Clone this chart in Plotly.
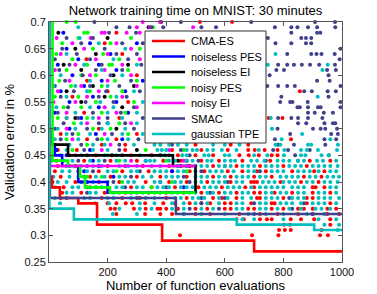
import plotly.graph_objects as go

# ---------------- data ----------------
series_names = ["CMA-ES", "noiseless PES", "noiseless EI", "noisy PES",
                "noisy EI", "SMAC", "gaussian TPE"]

# evaluated points, grouped by validation-error level: (level, [evaluation numbers])
cma_rows = [
    (0.70, [515, 625]), (0.68, [230]), (0.66, [190]), (0.64, [250]), (0.63, [128]),
    (0.60, [300]), (0.59, [130]), (0.57, [200, 856]), (0.56, [80]), (0.55, [270]),
    (0.53, [120]), (0.52, [60, 240, 750, 797]), (0.50, [170]), (0.49, [40, 300]),
    (0.48, [130, 230, 826]), (0.47, [20, 180, 260, 500, 620, 680]),
    (0.46, [30, 95, 260, 420, 520, 610, 680, 702, 736, 780]),
    (0.45, [15, 70, 160, 280, 350, 440, 500, 560, 650, 682, 716, 760, 780]),
    (0.44, [25, 120, 210, 300, 390, 450, 520, 580, 660, 755, 890, 960]),
    (0.43, [30, 90, 200, 320, 410, 480, 560, 640, 720, 800, 880]),
    (0.42, [20, 100, 170, 250, 340, 420, 480, 530, 610, 660, 710, 740, 830, 905, 940]),
    (0.41, [40, 140, 210, 300, 380, 470, 560, 620, 700, 760, 870, 930]),
    (0.40, [12, 90, 170, 240, 330, 410, 470, 540, 620, 690, 700, 710, 790, 860, 920]),
    (0.39, [50, 130, 200, 280, 350, 430, 510, 590, 670, 700, 900, 910, 940]),
    (0.38, [45, 110, 190, 260, 340, 400, 460, 520, 580, 640, 700, 720, 770, 830, 900, 960]),
    (0.37, [40, 180, 250, 310, 400, 470, 560, 590, 640, 710, 720, 800, 880, 900]),
    (0.36, [200, 230, 262, 284, 328, 390, 430, 480, 520, 550, 600, 620, 690, 760, 770, 880, 960]),
    (0.35, [210, 225, 290, 330, 370, 380, 400, 440, 500, 540, 600, 620, 680, 700, 760, 800,
            850, 870, 900, 950, 980]),
    (0.34, [230, 328, 380, 420, 500, 550, 650, 720, 780, 850, 900, 950, 990]),
    (0.33, [640, 665, 720, 744, 760, 825, 860, 905, 960]),
    (0.32, [802, 822, 960]),
    (0.31, [785, 805, 825, 930]),
    (0.30, [447, 693, 783, 925, 952]),
]

npes_rows = [
    (0.68, [49]), (0.66, [140, 300]), (0.65, [60]), (0.64, [210]), (0.63, [100]),
    (0.62, [30, 170]), (0.61, [230]), (0.60, [80]), (0.59, [180, 320]), (0.58, [120]),
    (0.57, [40, 260]), (0.56, [150]), (0.55, [70, 230]), (0.54, [170]), (0.53, [20, 270]),
    (0.52, [110]), (0.51, [200]), (0.50, [70]), (0.49, [160]), (0.48, [250]),
    (0.46, [25, 140]), (0.45, [60]), (0.44, [150, 330]), (0.43, [170]),
    (0.42, [120, 420]), (0.41, [220]), (0.40, [130, 380]), (0.39, [460]),
]

nei_rows = [
    (0.70, [382]), (0.69, [340]), (0.68, [32]), (0.67, [200]), (0.65, [90]), (0.64, [160]),
    (0.62, [50, 270]), (0.61, [110]), (0.60, [220]), (0.58, [150, 290]), (0.57, [60]),
    (0.56, [190]), (0.55, [110]), (0.54, [250]), (0.52, [90]), (0.50, [230]),
    (0.46, [300]), (0.45, [215, 380]), (0.44, [440, 470]),
]

ypes_rows = [
    (0.70, [60, 91]), (0.69, [355]), (0.68, [120, 132]), (0.67, [100, 280]),
    (0.66, [45, 210]), (0.65, [150, 310]), (0.64, [25, 185]), (0.63, [80, 240]),
    (0.62, [130, 205, 215]), (0.61, [60, 270]), (0.60, [110, 160]), (0.59, [35, 225, 300]),
    (0.58, [75, 180]), (0.57, [140, 250]), (0.56, [20, 100, 210]), (0.55, [160, 290]),
    (0.54, [50, 110]), (0.53, [180, 260]), (0.52, [30, 130]), (0.51, [85, 240]),
    (0.50, [150, 210]), (0.49, [100, 270]), (0.48, [60, 180]), (0.47, [130]),
    (0.46, [80, 330, 460]), (0.45, [200]), (0.44, [240, 400]), (0.43, [70]),
    (0.42, [230, 470]), (0.41, [130, 180]), (0.40, [250, 420]), (0.39, [160, 350]),
]

yei_rows = [
    (0.70, [320, 379]), (0.69, [300, 345, 492]), (0.68, [180, 190, 265, 310]),
    (0.67, [26, 142]), (0.66, [80, 230]), (0.65, [120, 280]), (0.64, [40, 200]),
    (0.63, [160, 310]), (0.62, [90, 250]), (0.61, [20, 190]), (0.60, [140, 280]),
    (0.59, [70, 200]), (0.58, [110, 300]), (0.57, [30, 170]), (0.56, [130, 250]),
    (0.55, [15, 90]), (0.54, [190, 300]), (0.53, [60, 230]), (0.52, [170]),
    (0.51, [130, 280]), (0.50, [60]), (0.49, [190]), (0.48, [80]), (0.47, [210]),
    (0.46, [180, 410]), (0.45, [90, 350]), (0.44, [280, 460]),
]

smac_rows = [
    (0.70, [155, 450, 690, 908, 976]),
    (0.69, [230, 275, 350, 390, 520, 570, 771, 827, 848, 884, 915, 977]),
    (0.68, [205, 297, 827, 915, 926]),
    (0.67, [60, 150, 747, 861, 877, 895]),
    (0.66, [110, 250, 320, 773, 827, 877, 895]),
    (0.65, [45, 190, 995]),
    (0.64, [95, 230, 300, 813, 895, 913, 930, 975]),
    (0.63, [20, 140, 270, 992]),
    (0.62, [70, 180, 315, 782, 813, 836, 863, 891, 922, 976]),
    (0.61, [35, 160, 250, 776, 802, 949, 979]),
    (0.60, [115, 210, 753, 954]),
    (0.59, [55, 280, 915, 958]),
    (0.58, [20, 140, 240, 745, 782, 813, 839, 995]),
    (0.57, [85, 195, 310, 871, 897, 951, 979]),
    (0.56, [40, 170, 265, 793, 954]),
    (0.55, [125, 220, 789, 823, 831, 883, 995]),
    (0.54, [65, 290, 848, 856, 884, 918, 927, 995]),
    (0.53, [30, 150, 245, 884, 907, 938, 969]),
    (0.52, [100, 200, 320, 782, 827, 850, 884, 933]),
    (0.51, [50, 170, 260, 850, 878, 940, 969, 977]),
    (0.50, [20, 130, 290, 780, 901, 927, 943, 983]),
    (0.49, [80, 215, 823, 963, 986]),
    (0.48, [40, 165, 305, 771, 940, 980]),
    (0.47, [110, 240, 420, 782, 836, 943]),
    (0.46, [120, 240, 450, 765, 816, 890]),
    (0.45, [130, 250, 480, 840, 955]),
    (0.44, [100, 190, 510, 740, 850]),
    (0.43, [130, 260, 450, 600]),
    (0.42, [150, 310, 520, 720]),
    (0.41, [120, 280, 460]),
    (0.40, [110, 220, 480, 610]),
    (0.39, [140, 260, 400]),
    (0.38, [130, 280, 550]),
    (0.37, [60, 300, 520, 600, 820]),
    (0.36, [520, 700, 870]),
    (0.35, [480, 580, 830]),
    (0.34, [460, 700, 900]),
]

tpe_rows = [
    (0.69, [100]), (0.67, [105]), (0.66, [170]), (0.65, [260]), (0.64, [60, 773]),
    (0.63, [220]), (0.62, [120, 300, 747, 951]), (0.61, [180, 933]), (0.60, [40, 250]),
    (0.59, [140]), (0.58, [15, 90, 200]), (0.57, [130, 290]), (0.56, [60, 230, 917]),
    (0.55, [175, 320]), (0.54, [25, 140, 220]), (0.53, [90, 200, 300]),
    (0.52, [60, 150, 250, 757]), (0.51, [110, 200, 300]), (0.50, [30, 90, 180, 260, 761]),
    (0.49, [60, 140, 250, 320, 864]), (0.48, [20, 100, 200, 270, 794, 960]),
    (0.47, [70, 150, 190, 290, 360, 380, 410, 440, 470, 560, 600, 650, 773, 790, 884, 895, 986]),
    (0.46, [60, 150, 200, 370, 385, 400, 470, 490, 505, 540, 560, 590, 640, 716, 803, 860,
            880, 918, 983]),
    (0.45, [40, 110, 190, 230, 310, 380, 395, 410, 455, 470, 530, 545, 600, 615, 700, 745,
            802, 860, 875, 930, 955]),
    (0.44, [10, 50, 80, 140, 170, 230, 260, 330, 345, 360, 410, 430, 470, 490, 540, 555, 600,
            620, 635, 690, 710, 735, 780, 800, 820, 850, 870, 915, 935, 980]),
    (0.43, [60, 110, 150, 180, 240, 270, 300, 350, 380, 440, 470, 500, 520, 540, 580, 600,
            620, 660, 680, 700, 740, 760, 780, 820, 840, 860, 900, 920, 940, 960, 985]),
    (0.42, [45, 70, 130, 200, 220, 280, 300, 360, 380, 400, 440, 460, 500, 550, 570, 590, 630,
            680, 700, 760, 780, 800, 850, 870, 890, 920, 960, 980]),
    (0.41, [15, 70, 100, 160, 190, 240, 260, 320, 350, 400, 420, 440, 500, 520, 540, 580, 600,
            640, 660, 680, 720, 740, 790, 810, 830, 850, 890, 910, 950, 970, 990]),
    (0.40, [30, 60, 120, 150, 200, 270, 290, 360, 380, 430, 450, 500, 520, 560, 580, 600, 640,
            660, 730, 750, 770, 800, 820, 840, 880, 900, 940, 960, 985]),
    (0.39, [20, 80, 100, 160, 180, 230, 250, 300, 320, 370, 390, 410, 450, 470, 490, 530, 550,
            570, 610, 630, 650, 690, 720, 740, 760, 780, 800, 830, 850, 870, 960, 980]),
    (0.38, [60, 80, 140, 160, 220, 240, 300, 320, 360, 380, 420, 440, 480, 500, 540, 560, 600,
            620, 660, 680, 740, 760, 790, 810, 850, 870, 920, 940, 980]),
    (0.37, [20, 120, 140, 200, 220, 280, 330, 360, 430, 450, 490, 510, 530, 580, 610, 660, 690,
            740, 760, 780, 830, 850, 870, 920, 940, 960, 990]),
    (0.36, [38, 157, 205, 310, 360, 420, 460, 500, 540, 580, 640, 660, 720, 740, 790, 810, 830,
            860, 900, 920, 940, 980]),
    (0.35, [240, 310, 350, 420, 460, 520, 560, 640, 660, 720, 740, 780, 820, 860, 910, 930, 960]),
    (0.34, [218, 300, 460, 520, 600, 680, 740, 800, 880, 940]),
    (0.33, [660, 700, 800, 920, 980]),
    (0.32, [940, 990]),
    (0.31, [985]),
]

# best-so-far (incumbent) error vs. number of evaluations
cma_best_x = [2, 10, 37, 100, 164, 386, 700, 1000]
cma_best_y = [0.41, 0.39, 0.37, 0.36, 0.32, 0.29, 0.27, 0.27]
npes_best_x = [15, 20, 45, 100, 200, 500]
npes_best_y = [0.47, 0.45, 0.43, 0.40, 0.38, 0.38]
nei_best_x = [5, 8, 65, 423, 500]
nei_best_y = [0.50, 0.47, 0.45, 0.43, 0.38]
ypes_best_x = [1, 12, 65, 106, 123, 208, 500]
ypes_best_y = [0.90, 0.44, 0.43, 0.41, 0.39, 0.38, 0.38]
yei_best_x = [0, 2, 500]
yei_best_y = [0.90, 0.43, 0.43]
smac_best_x = [1, 3, 433, 1000]
smac_best_y = [0.45, 0.37, 0.34, 0.34]
tpe_best_x = [0, 1, 85, 641, 905, 1000]
tpe_best_y = [0.90, 0.35, 0.33, 0.32, 0.31, 0.31]

x_ticks = [200, 400, 600, 800, 1000]
y_ticks = [0.25, 0.30, 0.35, 0.40, 0.45, 0.50, 0.55, 0.60, 0.65, 0.70]
y_tick_text = ["0.25", "0.3", "0.35", "0.4", "0.45", "0.5", "0.55", "0.6", "0.65", "0.7"]

# ---------------- styling ----------------
colors = ["#FF0000", "#0000FF", "#000000", "#00FF00", "#FF00FF", "#40408C", "#00BFBF"]
W, H = 377, 294
ML, MR, MT, MB = 49, 35, 22, 32
PW, PH = W - ML - MR, H - MT - MB
FONT = "Liberation Sans, Arial, sans-serif"


def expand(rows):
    xs, ys = [], []
    for lvl, xl in rows:
        for x in xl:
            xs.append(x)
            ys.append(lvl)
    return xs, ys


all_rows = [cma_rows, npes_rows, nei_rows, ypes_rows, yei_rows, smac_rows, tpe_rows]
all_best = [(cma_best_x, cma_best_y), (npes_best_x, npes_best_y), (nei_best_x, nei_best_y),
            (ypes_best_x, ypes_best_y), (yei_best_x, yei_best_y),
            (smac_best_x, smac_best_y), (tpe_best_x, tpe_best_y)]

fig = go.Figure()
for name, rows, col in zip(series_names, all_rows, colors):
    xs, ys = expand(rows)
    fig.add_trace(go.Scatter(x=xs, y=ys, mode="markers", name=name, showlegend=False,
                             marker=dict(size=4, color=col, line=dict(width=0)),
                             cliponaxis=False))
for name, (bx, by), col in zip(series_names, all_best, colors):
    fig.add_trace(go.Scatter(x=bx, y=by, mode="lines", line_shape="hv", name=name,
                             showlegend=False, line=dict(color=col, width=2.6)))


def px_x(p):
    return (p - ML) / PW


def px_y(p):
    return (H - MB - p) / PH


# legend box drawn in plot-paper coordinates
shapes = [dict(type="rect", xref="paper", yref="paper", x0=px_x(145), x1=px_x(266),
               y0=px_y(143), y1=px_y(31), fillcolor="white",
               line=dict(color="#333333", width=1), layer="above")]
annotations = []
for i, (name, col) in enumerate(zip(series_names, colors)):
    cy = 41 + i * 15.5
    shapes.append(dict(type="line", xref="paper", yref="paper", x0=px_x(152), x1=px_x(185),
                       y0=px_y(cy), y1=px_y(cy), line=dict(color=col, width=2.6), layer="above"))
    annotations.append(dict(xref="paper", yref="paper", x=px_x(189), y=px_y(cy), text=name,
                            showarrow=False, xanchor="left", yanchor="middle",
                            font=dict(size=11, color="#000000", family=FONT)))

axis_common = dict(showline=True, mirror="ticks", linecolor="#555555", linewidth=1,
                   ticks="inside", ticklen=4, tickcolor="#555555", showgrid=False,
                   zeroline=False, tickfont=dict(size=11, color="#111111", family=FONT))

fig.update_layout(
    width=W, height=H,
    margin=dict(l=ML, r=MR, t=MT, b=MB, autoexpand=False),
    paper_bgcolor="white", plot_bgcolor="white",
    font=dict(family=FONT, size=11, color="#000000"),
    title=dict(text="Network training time on MNIST: 30 minutes", x=(ML + PW / 2) / W,
               xanchor="center", y=1 - 10.5 / H, yanchor="middle",
               font=dict(size=13, color="#000000", family=FONT)),
    xaxis=dict(range=[0, 1000], tickvals=x_ticks, ticktext=[str(v) for v in x_ticks],
               title=dict(text="Number of function evaluations", standoff=2,
                          font=dict(size=13, family=FONT, color="#000000")),
               **axis_common),
    yaxis=dict(range=[0.25, 0.70], tickvals=y_ticks, ticktext=y_tick_text,
               title=dict(text="Validation error in %", standoff=6,
                          font=dict(size=13, family=FONT, color="#000000")),
               **axis_common),
    shapes=shapes, annotations=annotations,
)

fig.write_html("out.html", config={"displayModeBar": False},
               post_script="document.body.style.margin='0';document.body.style.overflow='hidden';")
